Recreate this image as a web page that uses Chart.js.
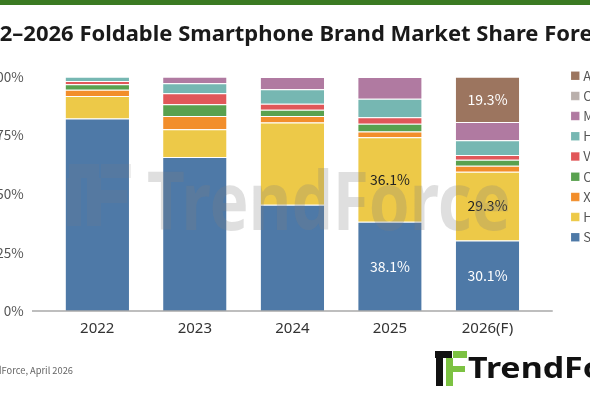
<!DOCTYPE html>
<html>
<head>
<meta charset="utf-8">
<script src="https://cdn.jsdelivr.net/npm/chart.js@4.4.1/dist/chart.umd.min.js"></script>
<style>
  html, body { margin: 0; padding: 0; background: #fff; }
  #wrap { position: relative; width: 590px; height: 393px; overflow: hidden; background: #fff; }
  #topbar { position: absolute; left: 0; top: 0; width: 590px; height: 5px; background: #3b7a22; z-index: 3; }
  #chart { position: absolute; top: 0; }
  #source { position: absolute; right: 517px; top: 363px; white-space: nowrap;
            font: 9.3px "Noto Sans CJK SC", "Noto Sans", sans-serif; color: #666; }
  #logo { position: absolute; left: 435px; top: 350px; width: 200px; height: 40px; }
  #logo .txt { position: absolute; left: 33px; top: -3px; white-space: nowrap;
               font: bold 29px "Noto Sans", sans-serif; color: #111;
               transform: scaleX(1.17); transform-origin: left top; }
  .blk { position: absolute; background: #111; }
  .grn { position: absolute; background: #7cc242; }
  #wm { position: absolute; left: 63px; top: 160px; width: 520px; height: 75px; pointer-events: none; z-index: 2; }
  #wm .txt { position: absolute; left: 84px; top: -16px; white-space: nowrap;
             font: bold 80px "Noto Sans", sans-serif; color: rgba(128,128,128,0.25);
             transform: scaleX(0.82); transform-origin: left top; }
  .wmb { position: absolute; background: rgba(128,128,128,0.14); }
</style>
</head>
<body>
<div id="wrap">
  <div id="topbar"></div>
  <canvas id="chart"></canvas>
  <div id="wm">
    <div class="wmb" style="left:6px;top:4px;width:30px;height:14px;"></div>
    <div class="wmb" style="left:4px;top:18px;width:14px;height:48px;"></div>
    <div class="wmb" style="left:38px;top:4px;width:30px;height:14px;"></div>
    <div class="wmb" style="left:38px;top:30px;width:26px;height:13px;"></div>
    <div class="wmb" style="left:24px;top:18px;width:14px;height:48px;"></div>
    <div class="txt">TrendForce</div>
  </div>
  <div id="source">Source: TrendForce, April 2026</div>
  <div id="logo">
    <div class="blk" style="left:0;top:1px;width:17px;height:7px;"></div>
    <div class="blk" style="left:1px;top:8px;width:7px;height:28px;"></div>
    <div class="grn" style="left:18px;top:1px;width:14px;height:7px;"></div>
    <div class="grn" style="left:11px;top:8px;width:7px;height:28px;"></div>
    <div class="grn" style="left:18px;top:16px;width:12px;height:6px;"></div>
    <div class="txt">TrendForce</div>
  </div>
</div>
<script>
// chart data (share in %)
const years = ['2022', '2023', '2024', '2025', '2026(F)'];
const brands = ['Samsung', 'Huawei', 'Xiaomi', 'Oppo', 'Vivo', 'Honor', 'Motorola', 'Others', 'Apple'];
const samsung  = [82.2, 65.7, 45.3, 38.1, 30.1];
const huawei   = [9.6, 11.9, 35.1, 36.1, 29.3];
const xiaomi   = [2.6, 5.6, 2.8, 2.4, 2.6];
const oppo     = [2.4, 5.0, 2.7, 3.3, 2.6];
const vivo     = [1.4, 4.7, 2.6, 2.8, 2.0];
const honor    = [1.8, 4.3, 6.1, 7.9, 6.3];
const motorola = [0, 2.8, 5.3, 9.3, 7.8];
const others   = [0, 0, 0, 0, 0];
const apple    = [0, 0, 0, 0, 19.3];
const yTicks = [0, 25, 50, 75, 100];
// which segments carry a value label: [brand, year index]
const labelled = [['Samsung', 3], ['Samsung', 4], ['Huawei', 3], ['Huawei', 4], ['Apple', 4]];

const colors = ['#4e79a7', '#edc948', '#f28e2b', '#59a14f', '#e15759', '#76b7b2', '#b07aa1', '#bab0ac', '#9c755f'];
const darkText = ['Huawei'];
const series = [samsung, huawei, xiaomi, oppo, vivo, honor, motorola, others, apple];

const FONT = '"Noto Sans CJK SC", "Noto Sans", sans-serif';
const TITLE_FONT = { family: '"Noto Sans", sans-serif', size: 22, weight: 'bold' };
const TITLE = '2022\u20132026 Foldable Smartphone Brand Market Share Forecast';

// the shot is cropped: the first "202" of the title falls off the left edge
const mctx = document.createElement('canvas').getContext('2d');
mctx.font = 'bold 22px "Noto Sans", sans-serif';
const TITLE_SHIFT = mctx.measureText('202').width;

const canvas = document.getElementById('chart');
canvas.width = Math.round(TITLE_SHIFT + 536.25 + 61.75);
canvas.height = 393;
canvas.style.left = (-TITLE_SHIFT) + 'px';

// axis line runs a bit past the bars, like the original
const baseLine = {
  id: 'baseLine',
  afterDatasetsDraw(chart) {
    const { ctx, chartArea: a } = chart;
    ctx.save();
    ctx.strokeStyle = '#a9a9a9';
    ctx.lineWidth = 1.5;
    ctx.beginPath();
    ctx.moveTo(a.left - 16.5, a.bottom);
    ctx.lineTo(a.right + 16.5, a.bottom);
    ctx.stroke();
    ctx.restore();
  }
};

// value labels inside chosen segments
const segLabels = {
  id: 'segLabels',
  afterDatasetsDraw(chart) {
    const ctx = chart.ctx;
    ctx.save();
    ctx.font = '14px ' + FONT;
    ctx.textAlign = 'center';
    ctx.textBaseline = 'middle';
    labelled.forEach(([name, i]) => {
      const di = brands.indexOf(name);
      const el = chart.getDatasetMeta(di).data[i];
      ctx.fillStyle = darkText.includes(name) ? '#222' : '#fff';
      ctx.fillText(series[di][i].toFixed(1) + '%', el.x, (el.y + el.base) / 2);
    });
    ctx.restore();
  }
};

// legend sits a little right of the plot and centred on it;
// title gets room so it is cut by the page, not squeezed
const placeBoxes = {
  id: 'placeBoxes',
  afterLayout(chart) {
    const lg = chart.legend, a = chart.chartArea, t = chart.titleBlock;
    lg.left = a.right + 30.3;
    lg.right = lg.left + lg.width;
    lg.top = 0;
    lg.bottom = a.bottom + 2;
    t.right = t.left + 1200;
    t.width = 1200;
  }
};

new Chart(canvas, {
  type: 'bar',
  data: {
    labels: years,
    datasets: brands.map((b, k) => ({
      label: b,
      data: series[k],
      backgroundColor: colors[k],
      borderColor: 'rgba(255,255,255,0.55)',
      borderWidth: { top: 1, left: 0, right: 0, bottom: 0 },
      borderSkipped: false
    }))
  },
  options: {
    responsive: false,
    animation: false,
    devicePixelRatio: 1,
    layout: { padding: { left: 0, right: 0, top: 0, bottom: 46 } },
    datasets: { bar: { categoryPercentage: 1, barPercentage: 0.65 } },
    scales: {
      x: {
        stacked: true,
        grid: { display: false, drawTicks: false },
        border: { display: false },
        ticks: { color: '#333', padding: 9, font: { family: '"Noto Sans", sans-serif', size: 15 } }
      },
      y: {
        stacked: true,
        min: 0,
        max: 100,
        afterBuildTicks: s => { s.ticks = yTicks.map(v => ({ value: v })); },
        afterFit: s => { s.width = TITLE_SHIFT + 48.75; },
        grid: { display: false, drawTicks: false },
        border: { display: false },
        ticks: { color: '#555', padding: 24.75, font: { family: FONT, size: 13.5 }, callback: v => v + '%' }
      }
    },
    plugins: {
      title: {
        display: true,
        text: TITLE,
        align: 'start',
        color: '#1a1a1a',
        font: TITLE_FONT,
        padding: { top: 21.8, bottom: 28.5 }
      },
      legend: {
        position: 'right',
        reverse: true,
        maxWidth: 61.75,
        labels: {
          usePointStyle: true, pointStyle: 'rect', boxWidth: 3, boxHeight: 8.5, padding: 7.2,
          color: '#555', font: { family: FONT, size: 13 }
        }
      },
      tooltip: { enabled: false }
    }
  },
  plugins: [baseLine, segLabels, placeBoxes]
});
</script>
</body>
</html>
